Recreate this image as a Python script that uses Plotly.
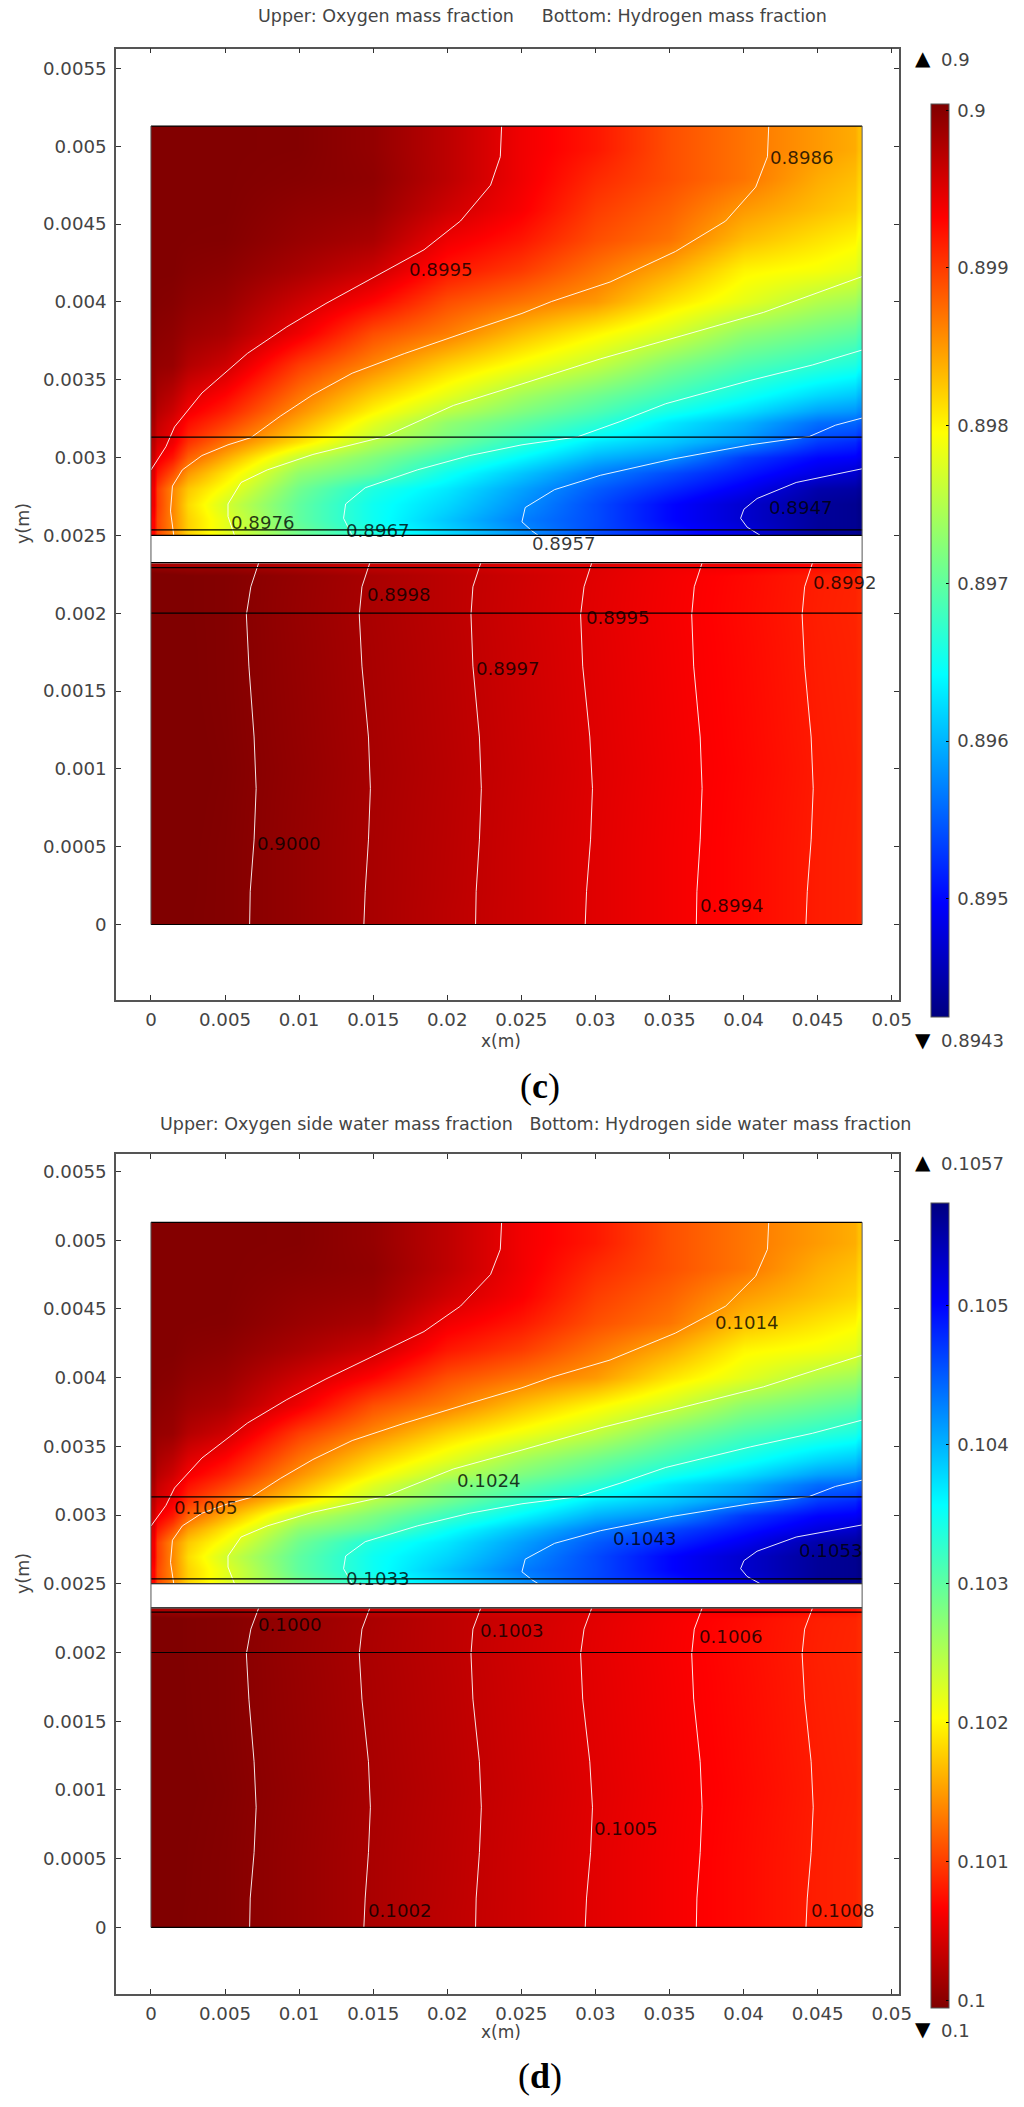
import plotly.graph_objects as go

W, H = 1024, 2107
FONT = "DejaVu Sans"

# ---------- shared axes ----------
x_ticks = [0, 0.005, 0.01, 0.015, 0.02, 0.025, 0.03, 0.035, 0.04, 0.045, 0.05]
x_ticktext = ["0", "0.005", "0.01", "0.015", "0.02", "0.025", "0.03", "0.035", "0.04", "0.045", "0.05"]
y_ticks = [0, 0.0005, 0.001, 0.0015, 0.002, 0.0025, 0.003, 0.0035, 0.004, 0.0045, 0.005, 0.0055]
y_ticktext = ["0", "0.0005", "0.001", "0.0015", "0.002", "0.0025", "0.003", "0.0035", "0.004", "0.0045", "0.005", "0.0055"]

# ---------- field grids (cell edges) ----------
x_edges = [0, 0.0004, 0.0025, 0.0075, 0.0125, 0.0175, 0.0225, 0.0275, 0.0325, 0.0375, 0.0425, 0.0475, 0.048]
y_edges_upper = [0.0025, 0.00256, 0.00265, 0.00275, 0.00285, 0.00295, 0.00305, 0.00315, 0.0033, 0.0035,
                 0.0037, 0.0039, 0.0041, 0.0043, 0.0045, 0.0047, 0.0049, 0.00507, 0.00513]
y_edges_lower = [0, 0.0002, 0.0008, 0.0012, 0.0018, 0.0022, 0.00229, 0.00232]

oxygen = [
    [.8993, .8986, .8978, .8971, .8966, .8962, .8958, .8954, .8951, .8948, .8944, .8943],
    [.8993, .8986, .8978, .8970, .8965, .8961, .8957, .8954, .8950, .8947, .8944, .8943],
    [.8994, .8986, .8977, .8970, .8965, .8962, .8958, .8954, .8950, .8947, .8944, .8943],
    [.8994, .8986, .8979, .8971, .8966, .8963, .8959, .8955, .8952, .8949, .8945, .8944],
    [.8995, .8989, .8981, .8973, .8970, .8965, .8961, .8957, .8954, .8951, .8948, .8946],
    [.8996, .8992, .8984, .8976, .8972, .8968, .8964, .8960, .8958, .8953, .8950, .8949],
    [.8997, .8994, .8987, .8981, .8975, .8971, .8967, .8963, .8961, .8958, .8953, .8951],
    [.8998, .8995, .8990, .8984, .8978, .8973, .8970, .8967, .8963, .8960, .8956, .8955],
    [.8999, .8997, .8993, .8987, .8982, .8978, .8974, .8971, .8968, .8965, .8962, .8960],
    [.89995, .8999, .8996, .8990, .8986, .8982, .8979, .8976, .8972, .8969, .8967, .8965],
    [.9000, .89995, .8998, .8994, .8989, .89865, .8983, .8980, .8977, .8973, .8971, .8969],
    [.90003, .9000, .8999, .8996, .8993, .8989, .8987, .8985, .8981, .8978, .8975, .8973],
    [.90003, .90003, .89997, .8998, .8996, .8992, .8990, .8987, .8984, .8980, .8979, .8977],
    [.90003, .90003, .90002, .8999, .8998, .8994, .8992, .8989, .8987, .8983, .8981, .8979],
    [.90003, .90003, .90003, .89995, .8999, .8996, .89935, .8990, .8988, .8985, .8983, .8981],
    [.90003, .90003, .90003, .9000, .89995, .8997, .8994, .8991, .8989, .8987, .8984, .8982],
    [.90003, .90003, .90003, .90002, .89993, .8997, .8994, .8992, .8989, .8987, .8985, .8983],
    [.90003, .90003, .90003, .90002, .89993, .8997, .8994, .8992, .8989, .8987, .8985, .8983],
]
hydrogen = [
    [.90010, .90006, .90002, .89992, .89981, .89970, .89960, .89949, .89938, .89928, .89917, .89911],
    [.90011, .90007, .90002, .89992, .89981, .89971, .89960, .89949, .89938, .89928, .89917, .89911],
    [.90012, .90008, .90003, .89993, .89982, .89972, .89961, .89950, .89939, .89929, .89918, .89912],
    [.90011, .90007, .90002, .89992, .89981, .89971, .89960, .89949, .89938, .89928, .89917, .89911],
    [.90010, .90006, .90002, .89991, .89980, .89970, .89959, .89948, .89937, .89927, .89916, .89910],
    [.90010, .90006, .90002, .89992, .89981, .89970, .89960, .89949, .89938, .89928, .89917, .89911],
    [.8998, .8998, .8998, .8997, .8996, .8996, .8995, .8995, .8994, .8994, .8993, .8992],
]
water_oxygen_side = [
    [.1007, .1014, .1022, .1029, .1034, .1038, .1042, .1046, .1049, .1052, .1056, .1057],
    [.1007, .1014, .1022, .1030, .1035, .1039, .1043, .1046, .1050, .1053, .1056, .1057],
    [.1006, .1014, .1023, .1030, .1035, .1038, .1042, .1046, .1050, .1053, .1056, .1057],
    [.1006, .1014, .1021, .1029, .1034, .1037, .1041, .1045, .1048, .1051, .1055, .1056],
    [.1005, .1011, .1019, .1027, .1030, .1035, .1039, .1043, .1046, .1049, .1052, .1054],
    [.1004, .1008, .1016, .1024, .1028, .1032, .1036, .1040, .1042, .1047, .1050, .1051],
    [.1003, .1006, .1013, .1019, .1025, .1029, .1033, .1037, .1039, .1042, .1047, .1049],
    [.1002, .1005, .1010, .1016, .1022, .1027, .1030, .1033, .1037, .1040, .1044, .1045],
    [.1001, .1003, .1007, .1013, .1018, .1022, .1026, .1029, .1032, .1035, .1038, .1040],
    [.10005, .1001, .1004, .1010, .1014, .1018, .1021, .1024, .1028, .1031, .1033, .1035],
    [.1000, .10005, .1002, .1006, .1011, .10135, .1017, .1020, .1023, .1027, .1029, .1031],
    [.09997, .1000, .1001, .1004, .1007, .1011, .1013, .1015, .1019, .1022, .1025, .1027],
    [.09997, .09997, .10003, .1002, .1004, .1008, .1010, .1013, .1016, .1020, .1021, .1023],
    [.09997, .09997, .09998, .1001, .1002, .1006, .1008, .1011, .1013, .1017, .1019, .1021],
    [.09997, .09997, .09997, .10005, .1001, .1004, .10065, .1010, .1012, .1015, .1017, .1019],
    [.09997, .09997, .09997, .1000, .10005, .1003, .1006, .1009, .1011, .1013, .1016, .1018],
    [.09997, .09997, .09997, .09998, .10007, .1003, .1006, .1008, .1011, .1013, .1015, .1017],
    [.09997, .09997, .09997, .09998, .10007, .1003, .1006, .1008, .1011, .1013, .1015, .1017],
]
water_hydrogen_side = [
    [.09990, .09994, .09998, .10008, .10019, .10030, .10040, .10051, .10062, .10072, .10083, .10089],
    [.09989, .09993, .09998, .10008, .10019, .10029, .10040, .10051, .10062, .10072, .10083, .10089],
    [.09988, .09992, .09997, .10007, .10018, .10028, .10039, .10050, .10061, .10071, .10082, .10088],
    [.09989, .09993, .09998, .10008, .10019, .10029, .10040, .10051, .10062, .10072, .10083, .10089],
    [.09990, .09994, .09998, .10009, .10020, .10030, .10041, .10052, .10063, .10073, .10084, .10090],
    [.09990, .09994, .09998, .10008, .10019, .10030, .10040, .10051, .10062, .10072, .10083, .10089],
    [.1002, .1002, .1002, .1003, .1004, .1004, .1005, .1005, .1006, .1006, .1007, .1008],
]

# ---------- contour lines (x, y in metres) ----------
upper_contours = [
    ([.02367, .02358, .02292, .02089, .01843, .01534, .01181, .00917, .00652, .00344, .00159, .00101, 0],
     [.005136, .004933, .00475, .00452, .004335, .004174, .00399, .00384, .00367, .003415, .003197, .00307, .00292]),
    ([.0417, .04161, .04082, .03879, .0354, .03099, .02702, .02504, .02129, .0171, .01358, .01093, .00873, .00674, .0052, .00344, .00212, .00145, .00132, .00154],
     [.005136, .004933, .004738, .00452, .004324, .004128, .004002, .003926, .003806, .003668, .003542, .003404, .003266, .003128, .003082, .003013, .002921, .002817, .002656, .0025]),
    ([.048, .04487, .04135, .03584, .03033, .02504, .02041, .01578, .01093, .00785, .00608, .0052, .0052, .00564],
     [.004163, .004055, .003933, .003783, .003634, .003473, .003335, .003135, .00302, .002921, .00284, .002702, .002622, .0025]),
    ([.048, .04465, .04046, .03474, .03165, .02878, .02504, .02151, .01798, .01446, .01314, .013, .01358],
     [.003691, .003595, .003496, .003346, .003231, .003133, .003082, .003013, .002921, .002806, .002702, .00261, .0025]),
    ([.048, .0462, .04443, .04046, .03518, .03033, .02724, .02526, .02504, .0257, .02614],
     [.003254, .003208, .003135, .003082, .00299, .002886, .002794, .002679, .002587, .00253, .0025]),
    ([.048, .04355, .04091, .04002, .0398, .04024, .04113],
     [.002928, .00284, .002737, .002668, .00261, .002553, .0025]),
]
lower_contour_y = [.002323, .00217, .00199, .00166, .001205, .000874, .000544, .000213, 0]
lower_contours_x = [
    [.00727, .00674, .00644, .00661, .00696, .0071, .00696, .0067, .00666],
    [.01477, .01424, .01406, .01424, .01468, .01481, .01468, .01446, .01437],
    [.02226, .02173, .0216, .02173, .02217, .0223, .02217, .02195, .02191],
    [.02975, .02923, .02900, .02914, .02962, .0298, .02967, .0294, .02931],
    [.0372, .03667, .0365, .03663, .03707, .0372, .03707, .03685, .03681],
    [.04465, .04412, .04395, .04412, .04456, .0447, .04456, .0443, .04421],
]
# horizontal geometry boundaries
boundary_y = [0.00513, 0.003132, 0.002535, 0.0025, 0.002325, 0.002293, 0.002, 0]
domain_x = [0, 0.048]
side_y = [0, 0.00513]

# ---------- colour bars ----------
jet_stops = [(0, "#000080"), (0.125, "#0000ff"), (0.375, "#00ffff"), (0.64, "#ffff00"), (0.875, "#ff0000"), (1, "#800000")]
jet = [[p, c] for p, c in jet_stops]
jet_rev = [[1 - p, c] for p, c in reversed(jet_stops)]

c_range = [0.89425, 0.90004]
d_range = [0.09995, 0.10574]
c_cb_ticks = [0.895, 0.896, 0.897, 0.898, 0.899, 0.9]
c_cb_text = ["\u20090.895", "\u20090.896", "\u20090.897", "\u20090.898", "\u20090.899", "\u20090.9"]
d_cb_ticks = [0.1, 0.101, 0.102, 0.103, 0.104, 0.105]
d_cb_text = ["\u20090.1", "\u20090.101", "\u20090.102", "\u20090.103", "\u20090.104", "\u20090.105"]

# ---------- labels ----------
c_title = "Upper: Oxygen mass fraction     Bottom: Hydrogen mass fraction"
d_title = "Upper: Oxygen side water mass fraction   Bottom: Hydrogen side water mass fraction"
c_contour_labels = [("0.8986", 802, 157), ("0.8995", 441, 270), ("0.8976", 263, 523), ("0.8967", 378, 530),
                    ("0.8957", 564, 543), ("0.8947", 801, 507), ("0.8998", 399, 594), ("0.8992", 845, 582),
                    ("0.8995", 618, 617), ("0.8997", 508, 669), ("0.9000", 289, 843), ("0.8994", 732, 906)]
d_contour_labels = [("0.1014", 747, 1322), ("0.1024", 489, 1480), ("0.1005", 206, 1507), ("0.1043", 645, 1538),
                    ("0.1053", 831, 1550), ("0.1033", 378, 1578), ("0.1000", 290, 1625), ("0.1003", 512, 1630),
                    ("0.1006", 731, 1636), ("0.1005", 626, 1828), ("0.1002", 400, 1911), ("0.1008", 843, 1911)]


def fx(p):
    return p / W


def fy(p):
    return 1 - p / H


fig = go.Figure()


def add_panel(suffix, upper, lower, caxis):
    xa, ya = "x" + suffix, "y" + suffix
    for z, ye in ((upper, y_edges_upper), (lower, y_edges_lower)):
        fig.add_trace(go.Heatmap(x=x_edges, y=ye, z=z, zsmooth="best", coloraxis=caxis, xaxis=xa, yaxis=ya,
                                 hoverinfo="skip"))
    for cx, cy in upper_contours:
        fig.add_trace(go.Scatter(x=cx, y=cy, mode="lines", line=dict(color="rgba(255,255,255,0.9)", width=1),
                                 xaxis=xa, yaxis=ya, hoverinfo="skip", showlegend=False))
    for cx in lower_contours_x:
        fig.add_trace(go.Scatter(x=cx, y=lower_contour_y, mode="lines", line=dict(color="rgba(255,255,255,0.9)", width=1),
                                 xaxis=xa, yaxis=ya, hoverinfo="skip", showlegend=False))
    for b in boundary_y:
        fig.add_trace(go.Scatter(x=domain_x, y=[b, b], mode="lines", line=dict(color="#000", width=1.2),
                                 xaxis=xa, yaxis=ya, hoverinfo="skip", showlegend=False))
    for s in domain_x:
        fig.add_trace(go.Scatter(x=[s, s], y=side_y, mode="lines", line=dict(color="#555", width=1),
                                 xaxis=xa, yaxis=ya, hoverinfo="skip", showlegend=False))


add_panel("", oxygen, hydrogen, "coloraxis")
add_panel("2", water_oxygen_side, water_hydrogen_side, "coloraxis2")


def axis(domain, anchor, **kw):
    return dict(domain=domain, anchor=anchor, showgrid=False, zeroline=False, showline=True, mirror="ticks",
                linecolor="#555", linewidth=1.5, ticks="inside", ticklen=5, tickcolor="#333", tickwidth=1,
                tickfont=dict(family=FONT, size=18.2, color="#444"), tickmode="array", **kw)


x_range = [-0.00236, 0.05049]
y_range = [-0.000485, 0.005627]
layout = dict(
    width=W, height=H, margin=dict(l=0, r=0, t=0, b=0, autoexpand=False), paper_bgcolor="white", plot_bgcolor="white",
    showlegend=False,
    xaxis=axis([fx(116), fx(899)], "y", range=x_range, tickvals=x_ticks, ticktext=x_ticktext, ticklabelstandoff=2),
    yaxis=axis([fy(1000), fy(48.7)], "x", range=y_range, tickvals=y_ticks, ticktext=y_ticktext, ticklabelstandoff=4),
    xaxis2=axis([fx(116), fx(899)], "y2", range=x_range, tickvals=x_ticks, ticktext=x_ticktext, ticklabelstandoff=2),
    yaxis2=axis([fy(1994), fy(1154)], "x2", range=y_range, tickvals=y_ticks, ticktext=y_ticktext, ticklabelstandoff=4),
)


def cbar(top, bottom, tv, tt):
    return dict(x=fx(931), xanchor="left", xref="paper", y=fy(top), yanchor="top", yref="paper",
                len=bottom - top, lenmode="pixels", thickness=18, thicknessmode="pixels", xpad=0, ypad=0,
                outlinecolor="#555", outlinewidth=1, ticks="inside", ticklen=3, tickcolor="#000", tickwidth=1,
                tickmode="array", tickvals=tv, ticktext=tt, tickfont=dict(family=FONT, size=18, color="#444"))


layout["coloraxis"] = dict(colorscale=jet, cmin=c_range[0], cmax=c_range[1],
                           colorbar=cbar(104, 1016.7, c_cb_ticks, c_cb_text))
layout["coloraxis2"] = dict(colorscale=jet_rev, cmin=d_range[0], cmax=d_range[1],
                            colorbar=cbar(1202.7, 2008, d_cb_ticks, d_cb_text))
fig.update_layout(**layout)


def note(text, px, py, size=18.2, color="#444", family=FONT, anchor="center", angle=0):
    fig.add_annotation(text=text, x=fx(px), y=fy(py), xref="paper", yref="paper", showarrow=False,
                       xanchor=anchor, yanchor="middle", textangle=angle,
                       font=dict(family=family, size=size, color=color))


note(c_title, 542, 16, size=17.5)
note(d_title, 535, 1124, size=17.5)
for t, px, py in c_contour_labels + d_contour_labels:
    note(t, px, py, color="rgba(0,0,0,0.78)")

note("x(m)", 501, 1041, size=17)
note("x(m)", 501, 2032, size=17)
note("y(m)", 23, 524, size=17.5, angle=-90)
note("y(m)", 23, 1574, size=17.5, angle=-90)

note("▲", 923, 58, size=20, color="#000")
note("0.9", 939, 60, anchor="left", size=18)
note("▼", 923, 1040, size=20, color="#000")
note("0.8943", 939, 1040, anchor="left", size=18)
note("▲", 923, 1162, size=20, color="#000")
note("0.1057", 939, 1163, anchor="left", size=18)
note("▼", 923, 2029, size=20, color="#000")
note("0.1", 939, 2030, anchor="left", size=18)

note("(<b>c</b>)", 540, 1086, size=36, color="#000", family="Liberation Serif")
note("(<b>d</b>)", 540, 2076, size=36, color="#000", family="Liberation Serif")

fig.write_html("out.html", config={"displayModeBar": False},
               post_script="document.body.style.margin='0';document.documentElement.style.overflow='hidden';")
